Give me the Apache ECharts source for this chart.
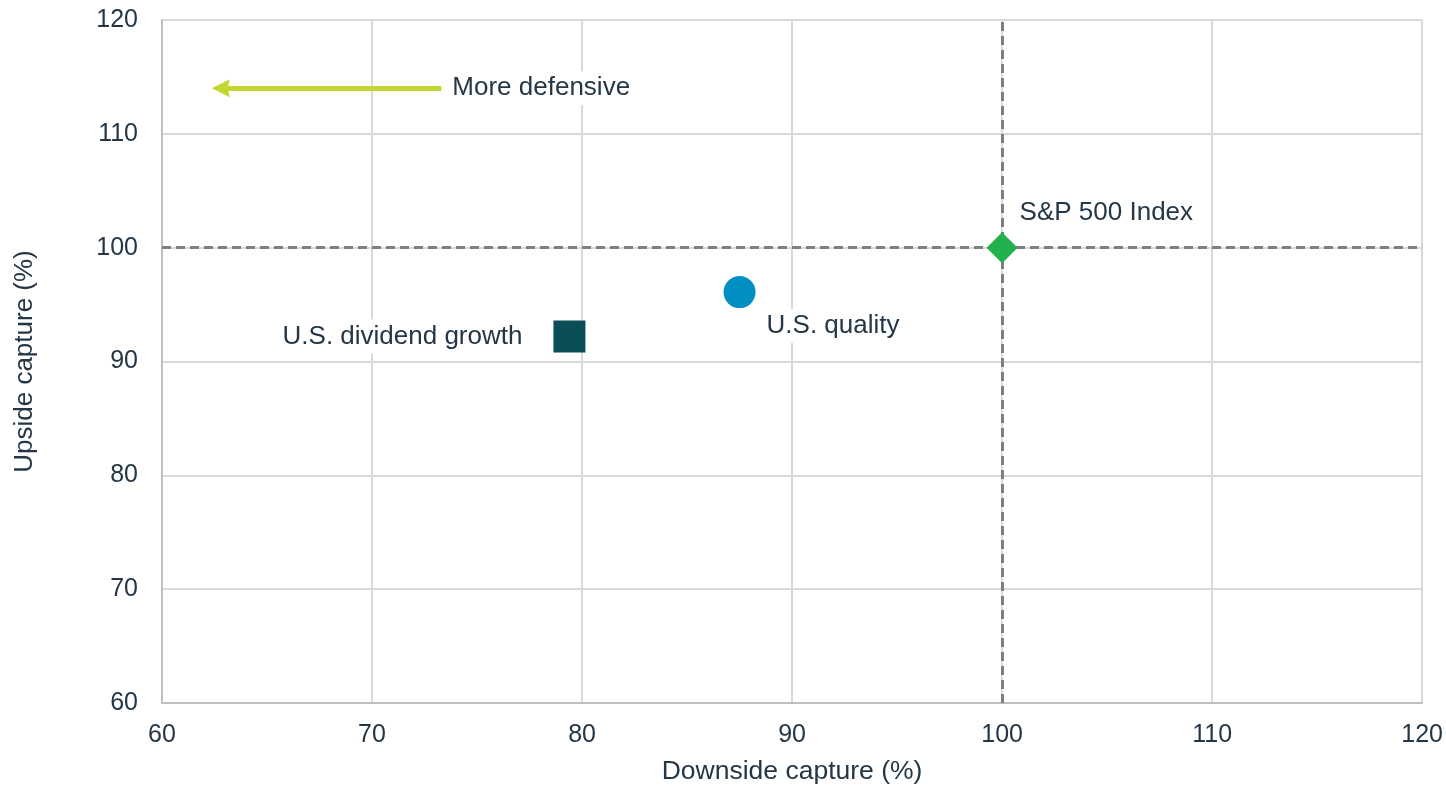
<!DOCTYPE html>
<html>
<head>
<meta charset="utf-8">
<title>Upside vs downside capture</title>
<script src="https://cdn.jsdelivr.net/npm/echarts@6/dist/echarts.min.js"></script>
<style>
  html, body { margin: 0; padding: 0; background: #ffffff; }
  #chart { width: 1446px; height: 790px; }
</style>
</head>
<body>
<div id="chart"></div>
<script>
// Strategy capture ratios: [downside capture %, upside capture %]
const seriesNames = ['U.S. dividend growth', 'U.S. quality', 'S&P 500 Index'];
const dividendGrowth = [79.4, 92.2];
const quality = [87.5, 96.1];
const sp500 = [100, 100];

// Reference lines at 100% capture
const benchmarkLevel = 100;

// "More defensive" pointer: from [x, y] to [x, y]
const arrowLabel = 'More defensive';
const arrowFrom = [73.3, 114.0];
const arrowTo = [62.8, 114.0];

// Axis ranges and ticks
const xTicks = [60, 70, 80, 90, 100, 110, 120];
const yTicks = [60, 70, 80, 90, 100, 110, 120];
const xAxisName = 'Downside capture (%)';
const yAxisName = 'Upside capture (%)';

const textColor = '#253746';
const font = 'Arial, "Liberation Sans", sans-serif';

const labelBox = {
  color: textColor,
  fontSize: 26,
  fontFamily: font,
  backgroundColor: '#ffffff',
  padding: [4, 6]
};

const chart = echarts.init(document.getElementById('chart'), null, { renderer: 'canvas' });

chart.setOption({
  animation: false,
  backgroundColor: '#ffffff',
  grid: { left: 162, right: 20, top: 20, bottom: 82, containLabel: false },
  xAxis: {
    type: 'value',
    min: xTicks[0],
    max: xTicks[xTicks.length - 1],
    interval: xTicks[1] - xTicks[0],
    name: xAxisName,
    nameLocation: 'middle',
    nameGap: 55,
    nameTextStyle: { color: textColor, fontSize: 26.5, fontFamily: font },
    axisLine: { show: true, lineStyle: { color: '#bfbfbf', width: 2 } },
    axisTick: { show: false },
    axisLabel: { color: textColor, fontSize: 25, fontFamily: font, margin: 20 },
    splitLine: { show: true, lineStyle: { color: '#d9d9d9', width: 2 } }
  },
  yAxis: {
    type: 'value',
    min: yTicks[0],
    max: yTicks[yTicks.length - 1],
    interval: yTicks[1] - yTicks[0],
    name: yAxisName,
    nameLocation: 'middle',
    nameGap: 124,
    nameRotate: 90,
    nameTextStyle: { color: textColor, fontSize: 26, fontFamily: font },
    axisLine: { show: true, lineStyle: { color: '#bfbfbf', width: 2 } },
    axisTick: { show: false },
    axisLabel: { color: textColor, fontSize: 25, fontFamily: font, margin: 24 },
    splitLine: { show: true, lineStyle: { color: '#d9d9d9', width: 2 } }
  },
  series: [
    {
      // defensive pointer
      type: 'line',
      data: [],
      silent: true,
      markLine: {
        silent: true,
        animation: false,
        data: [
          [
            { coord: arrowFrom, symbol: 'none' },
            { coord: arrowTo, symbol: 'path://M5,0 L10,18 L5,16 L0,18 Z', symbolSize: [18, 18] }
          ]
        ],
        lineStyle: { color: '#c4d730', width: 5, type: 'solid', opacity: 1 },
        label: { show: false }
      }
    },
    {
      // benchmark crosshair
      type: 'line',
      data: [],
      silent: true,
      markLine: {
        silent: true,
        animation: false,
        symbol: ['none', 'none'],
        data: [{ xAxis: benchmarkLevel }, { yAxis: benchmarkLevel }],
        lineStyle: { color: '#7f7f7f', width: 3, type: [9, 5], opacity: 1 },
        label: { show: false }
      }
    },
    {
      // label for the pointer
      type: 'scatter',
      silent: true,
      symbolSize: 0,
      itemStyle: { opacity: 1 },
      data: [arrowFrom],
      label: Object.assign({ show: true, position: 'right', distance: 5, formatter: arrowLabel }, labelBox),
      z: 5
    },
    {
      name: seriesNames[0],
      type: 'scatter',
      symbol: 'rect',
      symbolSize: 32,
      itemStyle: { color: '#0a4f55', opacity: 1 },
      data: [dividendGrowth],
      label: Object.assign({ show: true, position: 'left', distance: 25, formatter: seriesNames[0] }, labelBox),
      z: 6
    },
    {
      name: seriesNames[1],
      type: 'scatter',
      symbol: 'circle',
      symbolSize: 32,
      itemStyle: { color: '#008fc0', opacity: 1 },
      data: [quality],
      label: Object.assign({ show: true, position: [37, 33], formatter: seriesNames[1] }, labelBox),
      z: 6
    },
    {
      name: seriesNames[2],
      type: 'scatter',
      symbol: 'diamond',
      symbolSize: [31, 31],
      itemStyle: { color: '#22b14c', opacity: 1 },
      data: [sp500],
      label: Object.assign({ show: true, position: [27, -36], formatter: seriesNames[2] }, labelBox),
      z: 6
    }
  ]
});
</script>
</body>
</html>
